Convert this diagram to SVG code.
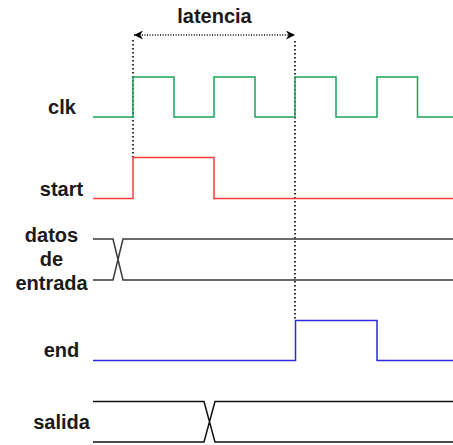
<svg xmlns="http://www.w3.org/2000/svg" width="453" height="445" viewBox="0 0 453 445">
<defs>
<style>
.lbl{font-family:"Liberation Sans",Arial,sans-serif;font-weight:bold;font-size:20px;fill:#1a1a1a;text-anchor:middle}
.sig{fill:none;stroke-width:1.5}
.dot{fill:none;stroke:#333;stroke-width:2;stroke-dasharray:1.5 2.5}
</style>
<marker id="ah" viewBox="0 0 10 10" refX="10" refY="5" markerWidth="9" markerHeight="9" markerUnits="userSpaceOnUse" orient="auto-start-reverse">
<path d="M0,0 L10,5 L0,10 L3,5 Z" fill="#000"/>
</marker>
</defs>
<rect width="453" height="445" fill="#fff"/>
<g id="labels">
<text class="lbl" x="214.5" y="23">latencia</text>
<text class="lbl" x="62" y="114">clk</text>
<text class="lbl" x="61.5" y="196">start</text>
<text class="lbl" x="51.5" y="242">datos</text>
<text class="lbl" x="51.5" y="266">de</text>
<text class="lbl" x="51.5" y="290">entrada</text>
<text class="lbl" x="61.5" y="357">end</text>
<text class="lbl" x="61.5" y="429">salida</text>
</g>
<g id="connectors">
<line x1="134" y1="35" x2="295" y2="35" stroke="#000" stroke-width="1.3" stroke-dasharray="1 1.6" marker-start="url(#ah)" marker-end="url(#ah)"/>
<line class="dot" x1="133" y1="40" x2="133" y2="157"/>
<line class="dot" x1="295" y1="41" x2="295" y2="320"/>
</g>
<g id="clk">
<path class="sig" stroke="#1aa35a" d="M93,117 H133 V77 H174 V117 H214 V77 H255 V117 H295 V77 H336 V117 H377 V77 H417.5 V117 H453"/>
</g>
<g id="start">
<path class="sig" stroke="#ff3b3b" d="M93,198.5 H133 V157.5 H214 V198.5 H453"/>
</g>
<g id="datos">
<path class="sig" stroke="#3a3a3a" d="M93,239 H113 L123,280 H453 M93,280 H113 L123,239 H453"/>
</g>
<g id="end">
<path class="sig" stroke="#2b2bdd" d="M93,360.5 H295.5 V320.5 H377 V360.5 H453"/>
</g>
<g id="salida">
<path class="sig" stroke="#111" d="M93,401.5 H204 L215,442 H453 M93,442 H204 L215,401.5 H453"/>
</g>
</svg>
